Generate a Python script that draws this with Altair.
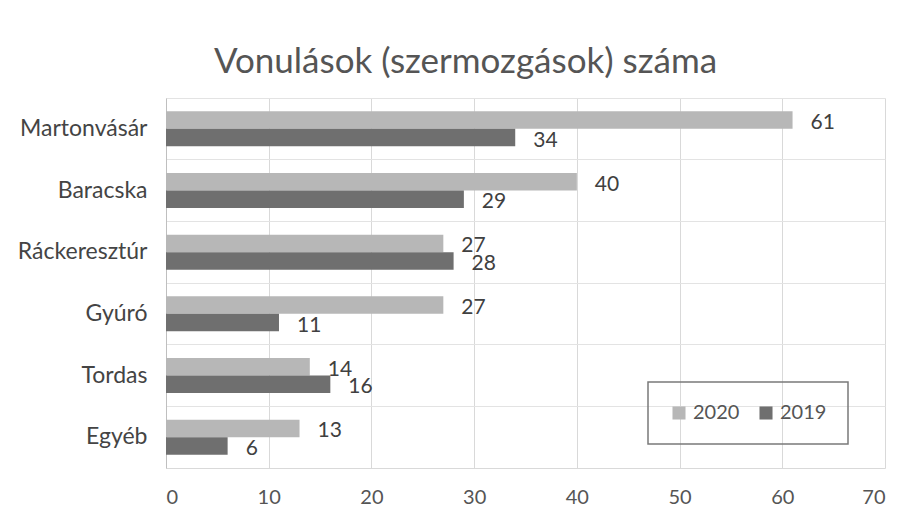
import altair as alt
import pandas as pd

categories = ["Martonvásár", "Baracska", "Ráckeresztúr", "Gyúró", "Tordas", "Egyéb"]
values_2020 = [61, 40, 27, 27, 14, 13]
values_2019 = [34, 29, 28, 11, 16, 6]
years = ["2020", "2019"]
x_ticks = [0, 10, 20, 30, 40, 50, 60, 70]

rows = []
for c, a, b in zip(categories, values_2020, values_2019):
    rows.append({"cat": c, "year": "2020", "val": a})
    rows.append({"cat": c, "year": "2019", "val": b})
df = pd.DataFrame(rows)

FONT = "Lato"

x = alt.X("val:Q", scale=alt.Scale(domain=[0, 70], nice=False),
          axis=alt.Axis(values=x_ticks, title=None, grid=True, gridColor="#d9d9d9",
                        domain=True, domainColor="#d9d9d9", ticks=False,
                        labelFontSize=20, labelColor="#555555", labelPadding=19, labelFont=FONT))
y = alt.Y("cat:N", sort=categories, scale=alt.Scale(paddingInner=0, paddingOuter=0),
          axis=alt.Axis(title=None, ticks=False, domain=True, domainColor="#bfbfbf",
                        grid=True, gridColor="#e3e3e3", bandPosition=0,
                        labelFontSize=23, labelColor="#444444", labelPadding=19, labelFont=FONT))
yoff = alt.YOffset("year:N", sort=years, scale=alt.Scale(paddingInner=0, paddingOuter=0.76))
color = alt.Color("year:N", sort=years,
                  scale=alt.Scale(domain=years, range=["#b7b7b7", "#6f6f6f"]),
                  legend=alt.Legend(title=None, orient="none", direction="horizontal",
                                    legendX=482, legendY=284, padding=21,
                                    strokeColor="#7a7a7a",
                                    symbolType="square", symbolSize=170, symbolStrokeWidth=0,
                                    labelFontSize=20, labelColor="#555555", labelFont=FONT,
                                    columnPadding=16, labelOffset=4))

bars = alt.Chart(df).mark_bar().encode(x=x, y=y, yOffset=yoff, color=color)
labels = alt.Chart(df).mark_text(align="left", dx=18, dy=3, fontSize=21, color="#404040",
                                 font=FONT).encode(
    x="val:Q", y=alt.Y("cat:N", sort=categories), yOffset=yoff, text="val:Q")

chart = (bars + labels).properties(
    width=719, height=370,
    background="white",
    title=alt.Title("Vonulások (szermozgások) száma", fontSize=35, font=FONT,
                    fontWeight="normal", color="#555555", anchor="middle", dx=-60, offset=18),
    autosize=alt.AutoSizeParams(type="none"),
    padding={"left": 158, "top": 90, "right": 10, "bottom": 39},
).configure_view(stroke=None).configure_legend(strokeWidth=1.5)

chart.save("out.html", embed_options={"renderer": "svg", "actions": False})
